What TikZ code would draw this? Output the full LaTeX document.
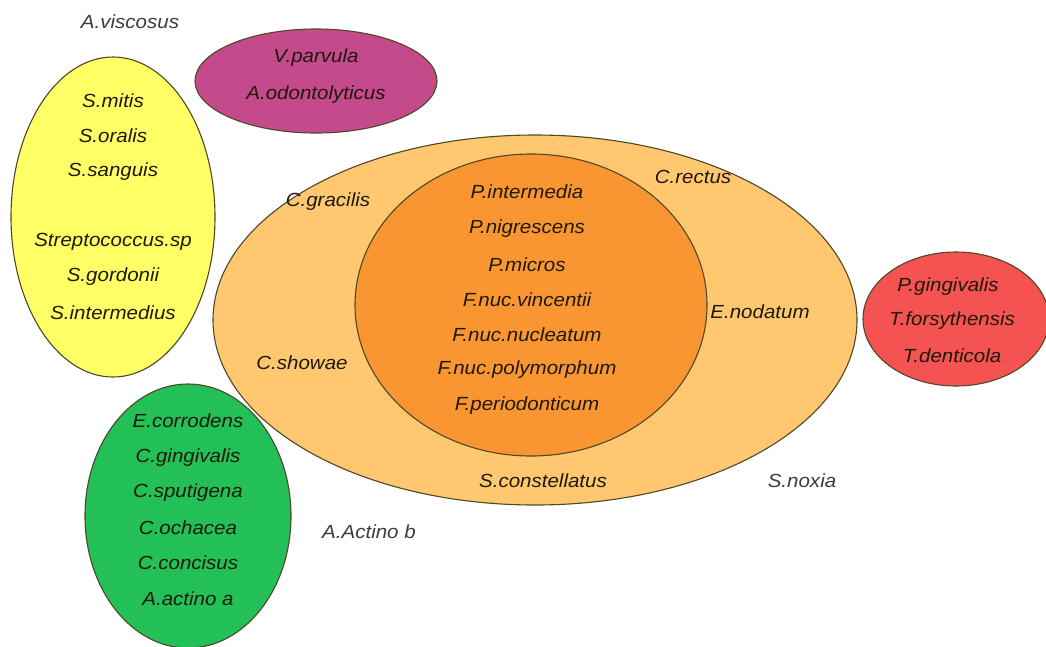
\documentclass[tikz,border=0pt]{standalone}
\usepackage{fontspec}
\setmainfont{Liberation Sans}
\definecolor{cpurple}{RGB}{196,74,140}
\definecolor{cyellow}{RGB}{255,255,102}
\definecolor{clight}{RGB}{255,200,112}
\definecolor{cinner}{RGB}{250,150,50}
\definecolor{cred}{RGB}{245,82,82}
\definecolor{cgreen}{RGB}{34,192,86}
\definecolor{cedge}{RGB}{80,70,40}
\definecolor{ctext}{RGB}{30,25,10}
\definecolor{cout}{RGB}{60,60,60}
\begin{document}
\begin{tikzpicture}[x=1pt,y=-1pt,
  blob/.style={draw=cedge,line width=1.1pt},
  lbl/.style={font=\fontsize{19}{22}\selectfont\itshape,text=ctext,inner sep=0pt,xscale=1.08},
  olbl/.style={lbl,text=cout}]
\useasboundingbox (0,0) rectangle (1046,646);
\fill[white] (0,0) rectangle (1046,646);
% shapes
\draw[blob,fill=cpurple] (316,81) ellipse[x radius=121,y radius=52];
\draw[blob,fill=cyellow] (113,217) ellipse[x radius=102,y radius=160];
\draw[blob,fill=cgreen] (188,516) ellipse[x radius=103,y radius=132];
\draw[blob,fill=cred] (956,319) ellipse[x radius=93,y radius=67];
\draw[blob,fill=clight] (535,320) ellipse[x radius=322,y radius=185];
\draw[blob,fill=cinner] (531,305) ellipse[x radius=176,y radius=151];
% outside labels
\node[olbl] (aviscosus) at (130,22) {A.viscosus};
\node[olbl] (aactinob) at (369,532) {A.Actino b};
\node[olbl] (snoxia) at (802,481) {S.noxia};
% purple
\node[lbl] (vparvula) at (316,58) {V.parvula};
\node[lbl] (aodonto) at (316,95) {A.odontolyticus};
% yellow
\node[lbl] (smitis) at (113,101) {S.mitis};
\node[lbl] (soralis) at (113,136) {S.oralis};
\node[lbl] (ssanguis) at (113,172) {S.sanguis};
\node[lbl] (streptosp) at (113,242) {Streptococcus.sp};
\node[lbl] (sgordonii) at (113,277) {S.gordonii};
\node[lbl] (sinterm) at (113,313) {S.intermedius};
% light orange ring
\node[lbl] (cgracilis) at (328,202) {C.gracilis};
\node[lbl] (cshowae) at (302,363) {C.showae};
\node[lbl] (crectus) at (693,177) {C.rectus};
\node[lbl] (enodatum) at (760,312) {E.nodatum};
\node[lbl] (sconst) at (543,481) {S.constellatus};
% inner
\node[lbl] (pinterm) at (527,192) {P.intermedia};
\node[lbl] (pnigr) at (527,229) {P.nigrescens};
\node[lbl] (pmicros) at (527,265) {P.micros};
\node[lbl] (fvinc) at (527,300) {F.nuc.vincentii};
\node[lbl] (fnucl) at (527,335) {F.nuc.nucleatum};
\node[lbl] (fpoly) at (527,370) {F.nuc.polymorphum};
\node[lbl] (fperio) at (527,406) {F.periodonticum};
% red
\node[lbl] (pging) at (948,287) {P.gingivalis};
\node[lbl] (tforsy) at (952,321) {T.forsythensis};
\node[lbl] (tdent) at (952,356) {T.denticola};
% green
\node[lbl] (ecorr) at (188,421) {E.corrodens};
\node[lbl] (cging) at (188,458) {C.gingivalis};
\node[lbl] (csput) at (188,493) {C.sputigena};
\node[lbl] (cocha) at (188,528) {C.ochacea};
\node[lbl] (cconc) at (188,563) {C.concisus};
\node[lbl] (aactinoa) at (188,599) {A.actino a};
\end{tikzpicture}
\end{document}
